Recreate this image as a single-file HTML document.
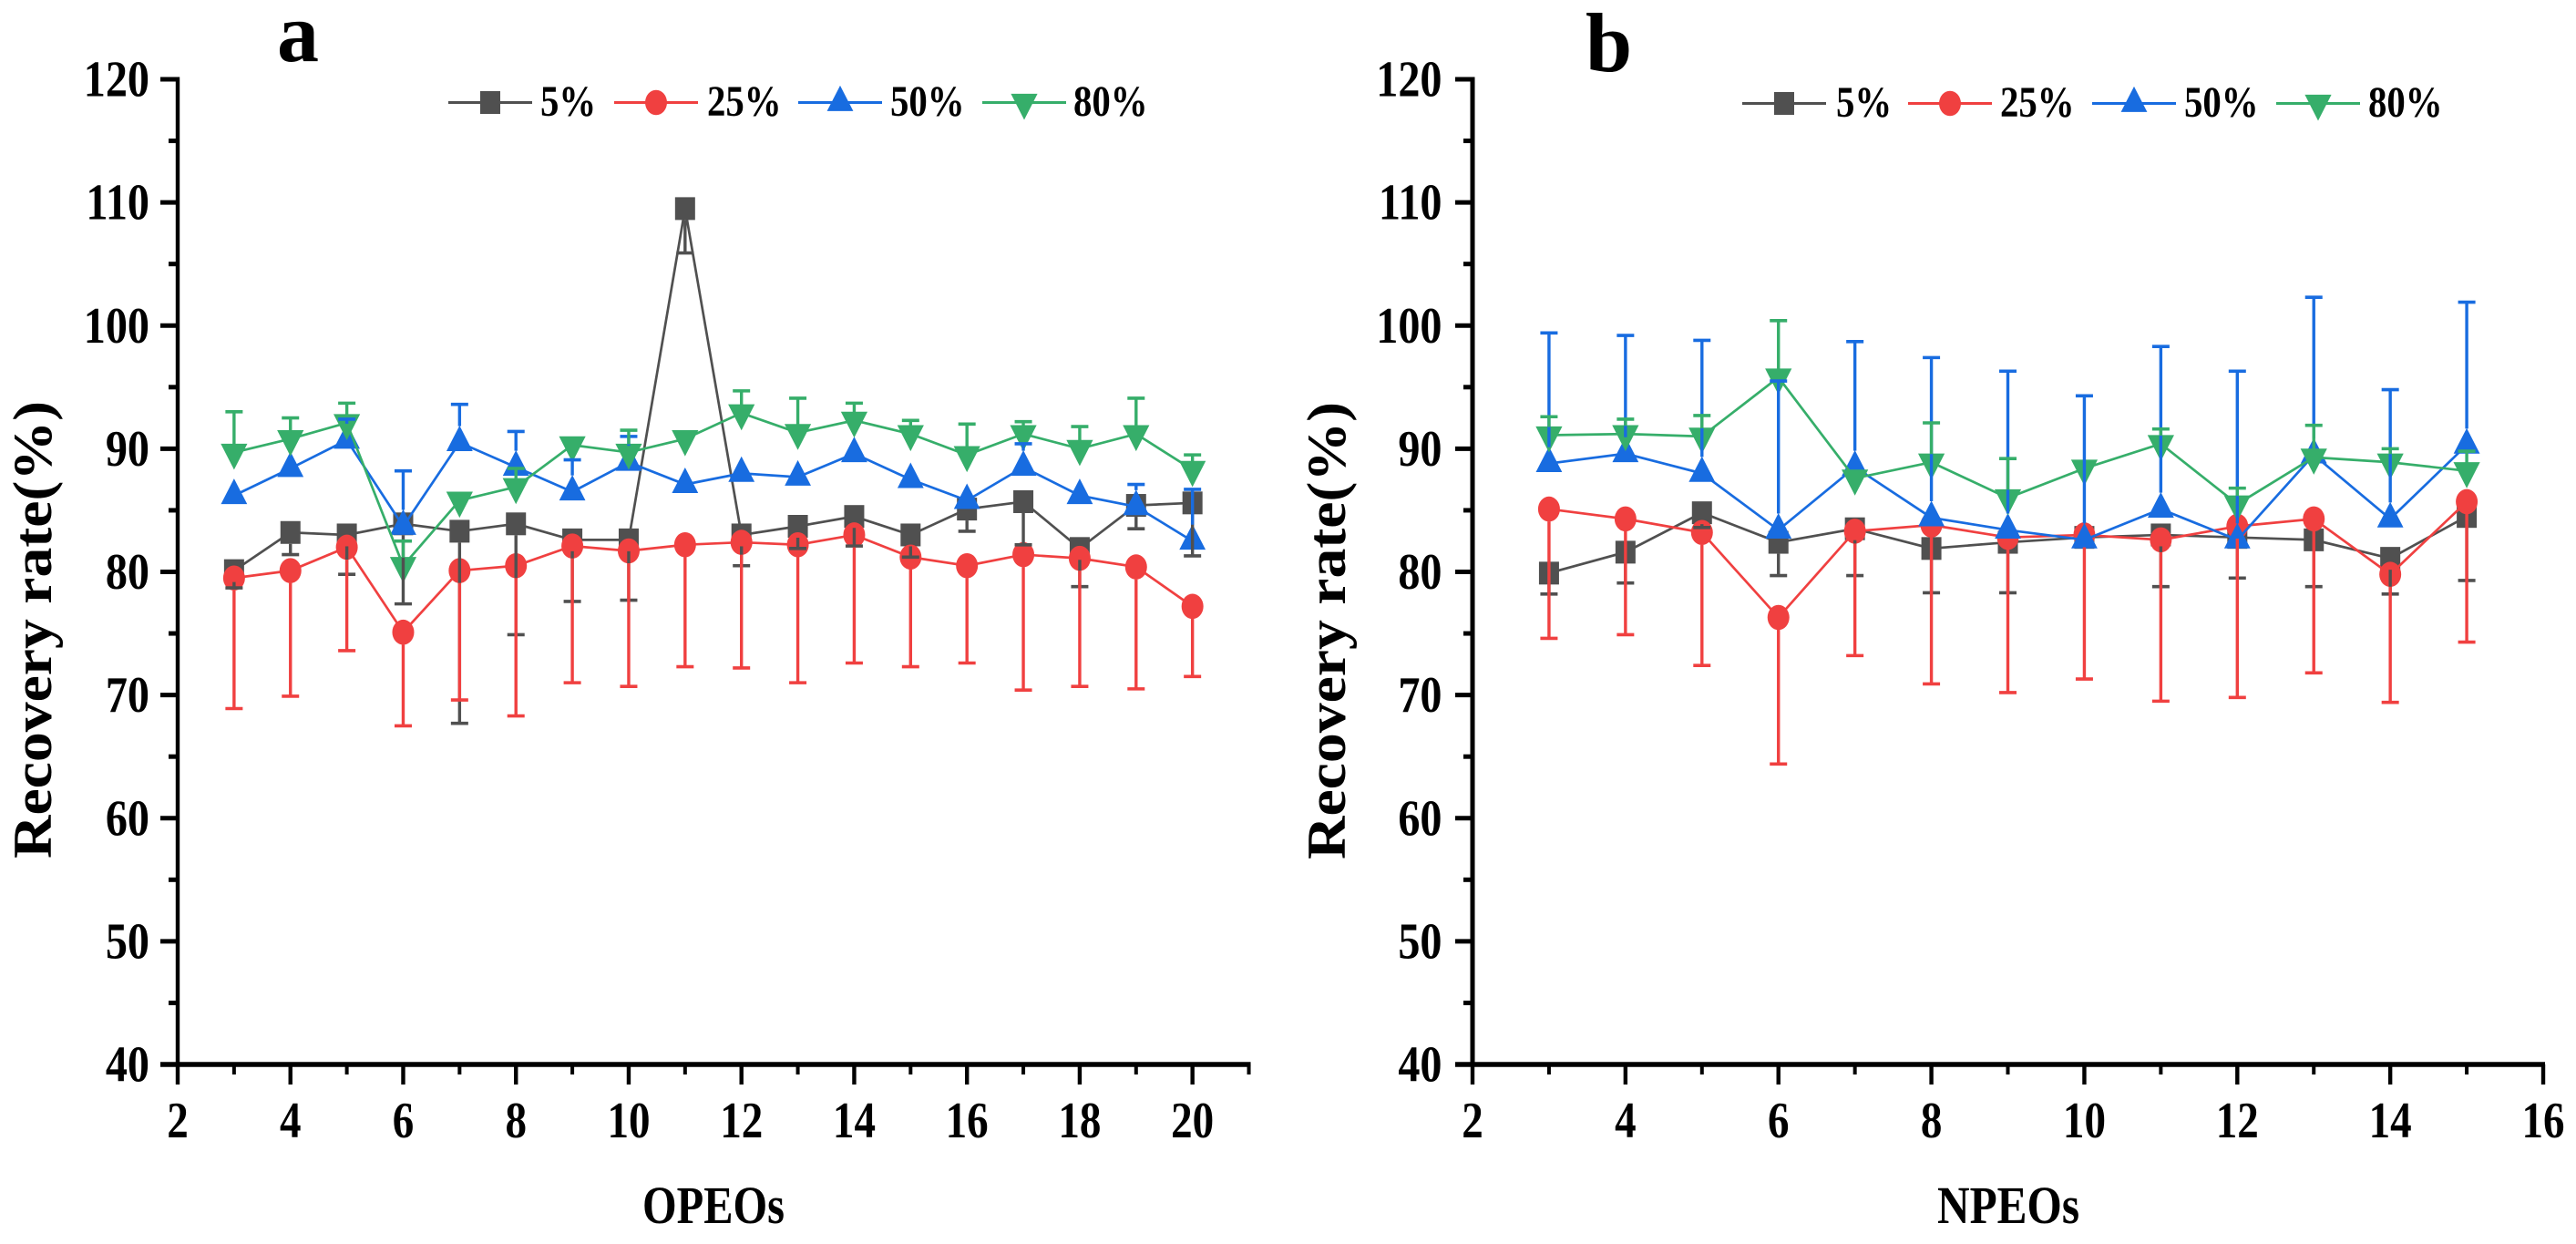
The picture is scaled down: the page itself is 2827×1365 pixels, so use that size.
<!DOCTYPE html>
<html lang="en">
<head>
<meta charset="utf-8">
<title>Recovery rate of OPEOs and NPEOs</title>
<style>
html,body{margin:0;padding:0;background:#fff;}
svg{display:block;}
text{font-family:"Liberation Serif","Times New Roman",serif;font-weight:bold;fill:#000;}
</style>
</head>
<body>
<svg id="chart" xmlns="http://www.w3.org/2000/svg" width="2827" height="1365" viewBox="0 0 2827 1365">
  <rect width="2827" height="1365" fill="#fff"/>
  <g id="panel-a">
    <text x="304" y="67" font-size="92">a</text>
    <text transform="translate(56,942) rotate(-90)" font-size="60" textLength="502" lengthAdjust="spacingAndGlyphs">Recovery rate(%)</text>
    <text x="705" y="1342" font-size="58" textLength="156" lengthAdjust="spacingAndGlyphs">OPEOs</text>
    <text transform="translate(593,127) scale(.85,1)" font-size="48">5%</text>
    <text transform="translate(776,127) scale(.85,1)" font-size="48">25%</text>
    <text transform="translate(977,127) scale(.85,1)" font-size="48">50%</text>
    <text transform="translate(1178,127) scale(.85,1)" font-size="48">80%</text>
  </g>
  <g id="panel-b">
    <text x="1740" y="78" font-size="92">b</text>
    <text transform="translate(1476,943) rotate(-90)" font-size="60" textLength="502" lengthAdjust="spacingAndGlyphs">Recovery rate(%)</text>
    <text x="2126" y="1342" font-size="58" textLength="156" lengthAdjust="spacingAndGlyphs">NPEOs</text>
    <text transform="translate(2015,128) scale(.85,1)" font-size="48">5%</text>
    <text transform="translate(2195,128) scale(.85,1)" font-size="48">25%</text>
    <text transform="translate(2397,128) scale(.85,1)" font-size="48">50%</text>
    <text transform="translate(2599,128) scale(.85,1)" font-size="48">80%</text>
  </g>
</svg>
<script>
// Shared labels
const seriesNames = ['5%', '25%', '50%', '80%'];
const yTicks = [40, 50, 60, 70, 80, 90, 100, 110, 120];
const yMinorTicks = [45, 55, 65, 75, 85, 95, 105, 115];

// Panel a: OPEOs
const aCategories = [3, 4, 5, 6, 7, 8, 9, 10, 11, 12, 13, 14, 15, 16, 17, 18, 19, 20];
const aXTicks = [2, 4, 6, 8, 10, 12, 14, 16, 18, 20];
const aXMinorTicks = [3, 5, 7, 9, 11, 13, 15, 17, 19, 21];
const a5 = [80.1, 83.2, 83.0, 83.9, 83.3, 83.9, 82.6, 82.6, 109.5, 83.0, 83.7, 84.5, 83.0, 85.1, 85.7, 81.9, 85.4, 85.6];
const a25 = [79.5, 80.1, 82.0, 75.1, 80.1, 80.5, 82.1, 81.7, 82.2, 82.4, 82.2, 83.0, 81.2, 80.5, 81.4, 81.1, 80.4, 77.2];
const a50 = [86.2, 88.4, 90.7, 83.7, 90.5, 88.5, 86.5, 88.9, 87.1, 88.0, 87.7, 89.6, 87.5, 85.8, 88.5, 86.2, 85.3, 82.5];
const a80 = [89.7, 90.8, 92.1, 80.5, 85.8, 86.9, 90.3, 89.7, 90.8, 92.9, 91.3, 92.3, 91.2, 89.5, 91.2, 90.0, 91.2, 88.3];
const a5Err = [78.7, 81.4, 79.8, 77.4, 67.7, 74.9, 77.6, 77.7, 105.9, 80.5, 81.9, 82.1, 81.2, 83.3, 82.2, 78.8, 83.5, 81.3];
const a25Err = [68.9, 69.9, 73.6, 67.5, 69.6, 68.3, 71.0, 70.7, 72.3, 72.2, 71.0, 72.6, 72.3, 72.6, 70.4, 70.7, 70.5, 71.5];
const a50Err = [87.3, 89.7, 92.4, 88.2, 93.6, 91.4, 89.1, 91.0, 87.3, 89.0, 88.5, 89.8, 88.6, 87.1, 90.4, 87.1, 87.1, 86.7];
const a80Err = [93.0, 92.5, 93.7, 82.5, 85.9, 88.4, 90.4, 91.5, 90.9, 94.7, 94.1, 93.7, 92.3, 92.0, 92.2, 91.8, 94.1, 89.5];

// Panel b: NPEOs
const bCategories = [3, 4, 5, 6, 7, 8, 9, 10, 11, 12, 13, 14, 15];
const bXTicks = [2, 4, 6, 8, 10, 12, 14, 16];
const bXMinorTicks = [3, 5, 7, 9, 11, 13, 15];
const b5 = [79.9, 81.6, 84.8, 82.4, 83.5, 81.9, 82.4, 82.8, 83.0, 82.8, 82.6, 81.1, 84.5];
const b25 = [85.1, 84.3, 83.2, 76.3, 83.3, 83.8, 82.8, 83.0, 82.6, 83.7, 84.3, 79.8, 85.7];
const b50 = [88.8, 89.6, 88.0, 83.4, 88.5, 84.4, 83.4, 82.6, 85.1, 82.6, 89.5, 84.3, 90.3];
const b80 = [91.1, 91.2, 91.0, 95.8, 87.6, 88.9, 86.0, 88.4, 90.4, 85.5, 89.3, 88.9, 88.2];
const b5Err = [78.2, 79.1, 83.6, 79.7, 79.7, 78.3, 78.3, 82.6, 78.8, 79.5, 78.8, 78.2, 79.3];
const b25Err = [74.6, 74.9, 72.4, 64.4, 73.2, 70.9, 70.2, 71.3, 69.5, 69.8, 71.8, 69.4, 74.3];
const b50Err = [99.4, 99.2, 98.8, 95.5, 98.7, 97.4, 96.3, 94.3, 98.3, 96.3, 102.3, 94.8, 101.9];
const b80Err = [92.6, 92.4, 92.7, 100.4, 87.7, 92.1, 89.2, 88.5, 91.6, 86.8, 91.9, 90.0, 89.8];

const NS = 'http://www.w3.org/2000/svg';
const COLORS = ['#505050', '#F04040', '#186CE0', '#36AE6A'];
const MARKER_GAP = [12.5, 13.5, 18, 9];
const ERR_DIR = [1, 1, -1, -1];
const Y_TOP = 87, Y_BOTTOM = 1168;

function yScale(v) {
  return Y_BOTTOM - (v - yTicks[0]) * (Y_BOTTOM - Y_TOP) / (yTicks[yTicks.length - 1] - yTicks[0]);
}

function make(parent, tag, attrs, text) {
  const node = document.createElementNS(NS, tag);
  for (const k in attrs) node.setAttribute(k, attrs[k]);
  if (text !== undefined) node.textContent = text;
  parent.appendChild(node);
  return node;
}

function drawMarker(parent, kind, x, y, color) {
  if (kind === 0) return make(parent, 'rect', { x: x - 11, y: y - 12.5, width: 22, height: 25, fill: color });
  if (kind === 1) return make(parent, 'ellipse', { cx: x, cy: y, rx: 12, ry: 13.8, fill: color });
  if (kind === 2) return make(parent, 'polygon', { points: (x - 14.4) + ',' + (y + 9.4) + ' ' + (x + 14.4) + ',' + (y + 9.4) + ' ' + x + ',' + (y - 18.6), fill: color });
  return make(parent, 'polygon', { points: (x - 14.6) + ',' + (y - 9.6) + ' ' + (x + 14.6) + ',' + (y - 9.6) + ' ' + x + ',' + (y + 19), fill: color });
}

function drawPanel(panelId, cfg) {
  const root = document.getElementById(panelId);
  const xScale = function (v) { return cfg.x0 + (v - 2) * cfg.unit; };

  // Axes
  const axes = make(root, 'g', {});
  
  

  const yLine = make(axes, 'line', { x1: cfg.x0, x2: cfg.x0, y1: Y_TOP - 2.5, y2: Y_BOTTOM, stroke: '#000', 'stroke-width': cfg.yAxisWidth });
  
  

  const xLine = make(axes, 'line', { x1: cfg.x0 - 19, x2: xScale(cfg.xMax) + 2, y1: Y_BOTTOM, y2: Y_BOTTOM, stroke: '#000', 'stroke-width': 5.5 });
  
  

  yTicks.forEach(function (v) {
    const t = make(axes, 'line', { x1: cfg.x0 - 19, x2: cfg.x0, y1: yScale(v), y2: yScale(v), stroke: '#000', 'stroke-width': 5 });
    
    
    const lab = make(axes, 'text', { transform: 'translate(' + cfg.yLabelRight + ',' + (yScale(v) + 18.5) + ') scale(.86,1)', 'font-size': 56, 'text-anchor': 'end' }, String(v));
    
    
  });
  yMinorTicks.forEach(function (v) {
    const t = make(axes, 'line', { x1: cfg.x0 - 10, x2: cfg.x0, y1: yScale(v), y2: yScale(v), stroke: '#000', 'stroke-width': 5 });
    
    
  });
  cfg.xTicks.forEach(function (v) {
    const t = make(axes, 'line', { x1: xScale(v), x2: xScale(v), y1: Y_BOTTOM, y2: 1190, stroke: '#000', 'stroke-width': 4.4 });
    
    
    const lab = make(axes, 'text', { transform: 'translate(' + xScale(v) + ',1248) scale(.84,1)', 'font-size': 56, 'text-anchor': 'middle' }, String(v));
    
    
  });
  cfg.xMinorTicks.forEach(function (v) {
    const t = make(axes, 'line', { x1: xScale(v), x2: xScale(v), y1: Y_BOTTOM, y2: 1179, stroke: '#000', 'stroke-width': 4 });
    
    
  });

  // Lines and markers
  cfg.series.forEach(function (vals, s) {
    const g = make(root, 'g', {});
    
    
    const pts = vals.map(function (v, i) { return xScale(cfg.categories[i]) + ',' + yScale(v); }).join(' ');
    const line = make(g, 'polyline', { points: pts, fill: 'none', stroke: COLORS[s], 'stroke-width': 2.7 });
    
    
    vals.forEach(function (v, i) {
      const m = drawMarker(g, s, xScale(cfg.categories[i]), yScale(v), COLORS[s]);
      
      
    });
  });

  // Error bars sit above every marker
  cfg.errors.forEach(function (errs, s) {
    const g = make(root, 'g', {});
    
    
    errs.forEach(function (e, i) {
      const x = xScale(cfg.categories[i]);
      const yv = yScale(cfg.series[s][i]);
      const ye = yScale(e);
      if (Math.abs(ye - yv) <= MARKER_GAP[s]) return;
      const bar = make(g, 'line', { x1: x, x2: x, y1: yv + ERR_DIR[s] * MARKER_GAP[s], y2: ye, stroke: COLORS[s], 'stroke-width': 3.4 });
      
      
      const cap = make(g, 'line', { x1: x - 9.5, x2: x + 9.5, y1: ye, y2: ye, stroke: COLORS[s], 'stroke-width': 3.6 });
      
      
    });
  });

  // Legend symbols
  cfg.legendX.forEach(function (lx, s) {
    const g = make(root, 'g', {});
    
    
    const line = make(g, 'line', { x1: lx, x2: lx + 92, y1: cfg.legendY, y2: cfg.legendY, stroke: COLORS[s], 'stroke-width': 3 });
    
    
    const m = drawMarker(g, s, lx + 46, cfg.legendY, COLORS[s]);
    
    
  });
}

drawPanel('panel-a', {
  x0: 195, unit: 61.87, xMax: 21, yAxisWidth: 4.4, yLabelRight: 164,
  categories: aCategories, xTicks: aXTicks, xMinorTicks: aXMinorTicks,
  series: [a5, a25, a50, a80], errors: [a5Err, a25Err, a50Err, a80Err],
  legendX: [492, 674, 876, 1078], legendY: 112.5
});

drawPanel('panel-b', {
  x0: 1616, unit: 83.93, xMax: 16, yAxisWidth: 5, yLabelRight: 1582.5,
  categories: bCategories, xTicks: bXTicks, xMinorTicks: bXMinorTicks,
  series: [b5, b25, b50, b80], errors: [b5Err, b25Err, b50Err, b80Err],
  legendX: [1912, 2094, 2296, 2498], legendY: 113.5
});
</script>
</body>
</html>
